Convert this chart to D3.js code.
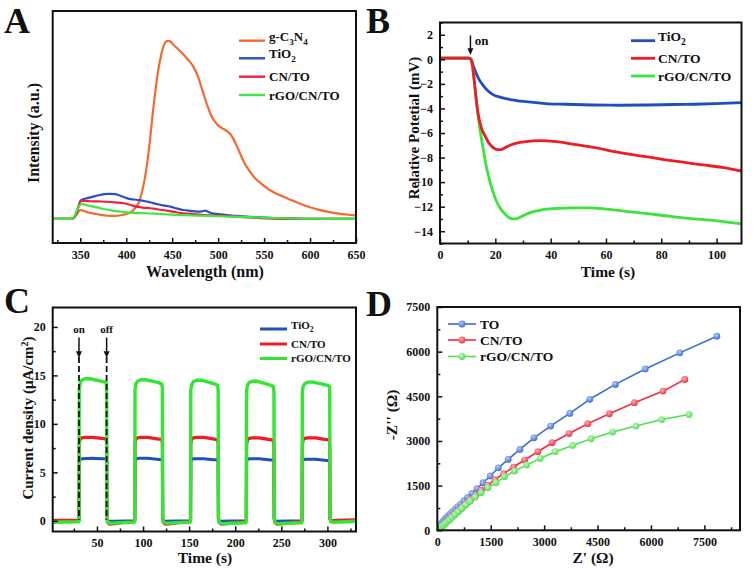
<!DOCTYPE html>
<html><head><meta charset="utf-8">
<script src="https://cdn.jsdelivr.net/npm/d3@7"></script>
<style>
body{margin:0;background:#fff}
svg{display:block}
text{font-family:"Liberation Serif","Times New Roman",serif;font-weight:bold;fill:#111}
</style>
</head><body>
<svg id="c" width="756" height="572"></svg>
<script>
// ---------- Panel A: PL spectra (wavelength nm, intensity a.u.) ----------
const aXTicks = [350,400,450,500,550,600,650];
const aXMinor = [325,375,425,475,525,575,625];
const aOrange = [[320,0],[340,0],[343,0.5],[346,2.5],[349,4.6],[351,5.0],[355,4.3],[360,3.5],[365,3.0],[372,2.3],[380,1.8],[388,1.7],[395,2.2],[401,2.9],[405,3.9],[408,5.0],[411,7.0],[414,9.5],[417,15],[420,22],[423,32],[426,45],[429,60],[432,73],[435,84],[438,92],[441,97.5],[444,99.8],[446,100],[448,99.6],[451.5,97.6],[456,95.5],[461,93],[467,89.5],[473,85.5],[478,80],[483,72],[488,64],[493,57.5],[499,53],[504,51],[509,49.5],[513,47.8],[517,44.5],[522,39],[528,32],[534,27],[540,23],[547,19.8],[555,16.6],[563,14.3],[572,12.3],[581,10.3],[590,8.4],[600,6.6],[610,5.1],[620,4.0],[630,3.1],[640,2.5],[650,2.0]];
const aBlue = [[320,0],[341,0],[344,1.5],[347,5],[349,8.5],[351,10.7],[355,11.3],[360,12],[364,12.5],[370,13.3],[376,13.9],[382,14.1],[388,13.9],[393,13.2],[398,12.2],[403,11.3],[408,10.9],[414,10.6],[419,10.1],[424,9.6],[429,8.9],[434,8.3],[440,7.6],[448,6.9],[455,5.9],[462,5.0],[470,4.5],[477,4.1],[482,4.2],[486,4.7],[489,4.0],[493,3.2],[500,2.7],[510,2.1],[520,1.7],[531,1.3],[546,0.9],[560,0.5],[580,0.3],[600,0.1],[650,0]];
const aRed = [[320,0],[341,0],[344,1.5],[347,5],[349,8.5],[351,10.3],[355,10.1],[364,9.9],[373,9.8],[383,9.5],[390,9.2],[397,8.8],[404,8.0],[411,6.9],[418,6.4],[426,6.0],[435,5.3],[444,4.7],[453,3.9],[462,3.2],[471,2.8],[480,2.4],[490,2.0],[502,1.9],[515,1.4],[531,0.9],[545,0.5],[560,0.2],[580,0],[650,0]];
const aGreen = [[320,0],[341,0],[344,2],[347,5.5],[350,8.0],[352,8.4],[356,7.8],[364,6.9],[372,6.0],[382,5.0],[391,4.2],[401,3.7],[411,3.3],[422,3.2],[435,2.8],[448,2.4],[464,2.1],[480,1.9],[500,1.5],[517,1.3],[535,1.0],[550,0.7],[570,0.4],[600,0.1],[650,0]];
const aNames = ["g-C3N4","TiO2","CN/TO","rGO/CN/TO"];

// ---------- Panel B: relative potential (time s, mV) ----------
const bXTicks = [0,20,40,60,80,100];
const bXMinor = [10,30,50,70,90];
const bYTicks = [-14,-12,-10,-8,-6,-4,-2,0,2];
const bYMinor = [-15,-13,-11,-9,-7,-5,-3,-1,1,3];
const bBlue = [[0,0.1],[5,0.1],[10.5,0.1],[11.2,0],[12,-0.5],[13,-1.1],[14,-1.6],[15.5,-2.1],[17,-2.5],[19,-2.85],[22,-3.1],[26,-3.3],[31,-3.45],[38,-3.6],[45,-3.66],[55,-3.72],[65,-3.74],[75,-3.72],[85,-3.68],[95,-3.64],[102,-3.58],[109,-3.53]];
const bRed = [[0,0.1],[10.5,0.1],[11.2,0],[11.8,-0.6],[12.5,-2],[13.2,-3.5],[14,-4.7],[15,-5.6],[16.2,-6.2],[17.5,-6.75],[19,-7.15],[20.5,-7.35],[22,-7.35],[23.5,-7.2],[25.5,-6.98],[28,-6.8],[31,-6.7],[36,-6.62],[42,-6.7],[48,-6.9],[55,-7.15],[65,-7.6],[75,-7.95],[85,-8.3],[95,-8.6],[102,-8.8],[109,-9.1]];
const bGreen = [[0,0.1],[10.5,0.1],[11.2,0],[11.8,-0.6],[12.5,-2],[13.2,-3.5],[14,-5.0],[15,-6.5],[16,-7.8],[17,-9.0],[18,-9.9],[19,-10.7],[20.5,-11.6],[22,-12.2],[23.5,-12.6],[25,-12.9],[26.5,-13.0],[28,-12.95],[30,-12.75],[33,-12.45],[37,-12.25],[42,-12.15],[48,-12.1],[54,-12.1],[60,-12.2],[70,-12.45],[80,-12.7],[90,-12.95],[100,-13.15],[109,-13.4]];
const bNames = ["TiO2","CN/TO","rGO/CN/TO"];

// ---------- Panel C: photocurrent (time s, µA/cm²) ----------
const cXTicks = [50,100,150,200,250,300];
const cXMinor = [25,75,125,175,225,275,325];
const cYTicks = [0,5,10,15,20];
const cYMinor = [2.5,7.5,12.5,17.5];
const cBlue = [[2,0],[30.5,0],[30.8,6.1],[31.8,6.35],[34,6.4],[45,6.45],[55,6.4],[60.5,6.4],[60.8,0.2],[62,-0.05],[70,-0.05],[91,0],
 [91.3,6.1],[92.3,6.35],[94.5,6.45],[105,6.45],[115,6.35],[121,6.3],[121.3,0.2],[122.5,-0.05],[151.5,0],
 [151.8,6.1],[152.8,6.35],[155,6.4],[166,6.4],[176,6.3],[181.5,6.3],[181.8,0.2],[183,-0.05],[212,0],
 [212.3,6.1],[213.3,6.35],[215.5,6.4],[226,6.4],[236,6.3],[242,6.25],[242.3,0.2],[243.5,-0.05],[272.5,0],
 [272.8,6.05],[273.8,6.3],[276,6.35],[287,6.35],[297,6.25],[302.5,6.2],[302.8,0.2],[304,0],[331,0]];
const cRed = [[2,0.05],[30,0.05],[30.5,0.1],[30.8,8.0],[31.8,8.4],[33.5,8.55],[37,8.6],[45,8.6],[55,8.5],[60,8.45],[60.5,8.0],[60.8,0.2],[61.8,-0.2],[64,-0.35],[70,-0.3],[80,-0.15],[90.5,-0.05],
 [91,0.1],[91.3,8.0],[92.3,8.4],[94,8.55],[97.5,8.6],[105,8.6],[115,8.45],[120.5,8.4],[121,7.9],[121.3,0.2],[122.3,-0.2],[124.5,-0.35],[131,-0.3],[141,-0.15],[151,-0.05],
 [151.5,0.1],[151.8,8.0],[152.8,8.4],[154.5,8.55],[158,8.6],[166,8.6],[176,8.45],[181,8.35],[181.5,7.9],[181.8,0.2],[182.8,-0.2],[185,-0.35],[191,-0.3],[201,-0.15],[211.5,-0.05],
 [212,0.1],[212.3,7.9],[213.3,8.35],[215,8.5],[218.5,8.55],[226,8.55],[236,8.4],[241.5,8.3],[242,7.8],[242.3,0.2],[243.3,-0.2],[245.5,-0.35],[252,-0.3],[262,-0.15],[272,-0.05],
 [272.5,0.1],[272.8,7.9],[273.8,8.35],[275.5,8.5],[279,8.55],[287,8.55],[297,8.4],[302,8.35],[302.5,7.8],[302.8,0.2],[303.8,0],[310,0.05],[331,0.1]];
const cGreen = [[2,-0.15],[30,-0.1],[30.5,0],[30.8,13.6],[31.8,14.2],[33.5,14.5],[37,14.65],[42,14.65],[50,14.5],[57,14.35],[60,14.25],[60.5,13.6],[60.8,0.4],[61.8,-0.15],[65,-0.25],[75,-0.2],[90.5,-0.15],
 [91,0],[91.3,13.5],[92.3,14.1],[94,14.4],[97.5,14.55],[102,14.55],[110,14.4],[117,14.25],[120.5,14.1],[121,13.5],[121.3,0.4],[122.3,-0.15],[125.5,-0.25],[136,-0.2],[151,-0.15],
 [151.5,0],[151.8,13.5],[152.8,14.0],[154.5,14.35],[158,14.5],[163,14.5],[171,14.3],[178,14.1],[181,13.95],[181.5,13.4],[181.8,0.4],[182.8,-0.2],[186,-0.3],[196,-0.25],[211.5,-0.2],
 [212,0],[212.3,13.4],[213.3,13.95],[215,14.25],[218.5,14.4],[223,14.4],[231,14.2],[238,14.0],[241.5,13.85],[242,13.3],[242.3,0.4],[243.3,-0.2],[246.5,-0.3],[257,-0.25],[272,-0.2],
 [272.5,0],[272.8,13.4],[273.8,13.9],[275.5,14.15],[279,14.3],[284,14.3],[292,14.15],[299,14.0],[302,13.9],[302.5,13.3],[302.8,0.4],[303.8,-0.1],[307,-0.15],[320,-0.1],[331,-0.05]];
const cNames = ["TiO2","CN/TO","rGO/CN/TO"];
const cOnOff = [30.5, 60.5];

// ---------- Panel D: Nyquist (Z' Ω, -Z'' Ω) ----------
const dXTicks = [0,1500,3000,4500,6000,7500];
const dXMinor = [750,2250,3750,5250,6750,8250];
const dYTicks = [0,1500,3000,4500,6000,7500];
const dYMinor = [750,2250,3750,5250,6750];
const dBlue = [[10,50],[28,111],[67,168],[104,221],[151,278],[196,346],[244,413],[300,480],[364,547],[431,624],[496,704],[571,792],[655,882],[750,993],[850,1107],[972,1241],[1115,1400],[1285,1597],[1485,1825],[1715,2100],[1990,2382],[2320,2717],[2715,3106],[3180,3500],[3720,3925],[4280,4400],[5000,4900],[5840,5420],[6810,5960],[7850,6520]];
const dRed = [[25,20],[60,55],[100,100],[145,150],[195,205],[250,270],[310,340],[375,415],[450,500],[530,590],[620,690],[720,800],[830,920],[950,1050],[1085,1190],[1235,1345],[1410,1510],[1620,1700],[1860,1900],[2140,2125],[2450,2360],[2825,2640],[3225,2940],[3700,3250],[4225,3580],[4830,3915],[5535,4285],[6340,4675],[6950,5065]];
const dGreen = [[10,5],[35,30],[75,65],[120,110],[170,160],[225,220],[285,285],[350,355],[420,435],[500,525],[590,625],[690,735],[800,850],[920,975],[1065,1117],[1230,1260],[1420,1430],[1650,1600],[1890,1800],[2170,1990],[2510,2190],[2890,2415],[3310,2640],[3800,2850],[4320,3075],[4920,3300],[5580,3500],[6300,3720],[7070,3890]];
const dNames = ["TO","CN/TO","rGO/CN/TO"];

// ================= drawing =================
const svg = d3.select("#c");
const defs = svg.append("defs");
let clipId = 0;

function makePanel(box, xd, yd) {
  const x = d3.scaleLinear().domain(xd).range([box.l, box.r]);
  const y = d3.scaleLinear().domain(yd).range([box.b, box.t]);
  const id = "clip" + (clipId++);
  defs.append("clipPath").attr("id", id).append("rect")
    .attr("x", box.l).attr("y", box.t).attr("width", box.r - box.l).attr("height", box.b - box.t);
  const plot = svg.append("g").attr("clip-path", `url(#${id})`);
  return {x, y, plot, box};
}
function styleAxis(g, fs) {
  g.attr("font-family", null).attr("font-size", null);
  g.select(".domain").remove();
  g.selectAll(".tick line").attr("stroke", "#111").attr("stroke-width", 1.5);
  g.selectAll("text").style("font-size", fs + "px").attr("fill", "#111");
}
function xAxis(P, major, minor, fmt, labels = true) {
  const g = svg.append("g").attr("transform", `translate(0,${P.box.b})`)
    .call(d3.axisBottom(P.x).tickValues(major).tickSize(-5).tickPadding(7).tickFormat(labels ? fmt : ""));
  styleAxis(g, 12);
  const m = svg.append("g").attr("transform", `translate(0,${P.box.b})`)
    .call(d3.axisBottom(P.x).tickValues(minor).tickSize(-3).tickFormat(""));
  styleAxis(m, 12);
}
function yAxis(P, major, minor, fmt) {
  const g = svg.append("g").attr("transform", `translate(${P.box.l},0)`)
    .call(d3.axisLeft(P.y).tickValues(major).tickSize(-5).tickPadding(7).tickFormat(fmt));
  styleAxis(g, 12);
  const m = svg.append("g").attr("transform", `translate(${P.box.l},0)`)
    .call(d3.axisLeft(P.y).tickValues(minor).tickSize(-3).tickFormat(""));
  styleAxis(m, 12);
}
function frame(P) {
  svg.append("rect").attr("x", P.box.l).attr("y", P.box.t)
    .attr("width", P.box.r - P.box.l).attr("height", P.box.b - P.box.t)
    .attr("fill", "none").attr("stroke", "#111").attr("stroke-width", 2);
}
function drawLine(P, data, color, w, curve) {
  P.plot.append("path").datum(data)
    .attr("d", d3.line().x(d => P.x(d[0])).y(d => P.y(d[1])).curve(curve))
    .attr("fill", "none").attr("stroke", color).attr("stroke-width", w)
    .attr("stroke-linejoin", "round").attr("stroke-linecap", "round");
}
// label text with chemical subscripts / superscript
function richText(sel, label, fs) {
  const parts = label.match(/[A-Za-z\/\-\(\)\sµμ'Ω]+|\d+/g);
  const chem = /^(g-C3N4|TiO2)$/.test(label);
  if (!chem) { sel.text(label); return sel; }
  let sub = false;
  parts.forEach(p => {
    const isNum = /^\d+$/.test(p);
    if (isNum) {
      sel.append("tspan").attr("dy", sub ? 0 : fs * 0.3).style("font-size", (fs * 0.7) + "px").text(p);
      sub = true;
    } else {
      sel.append("tspan").attr("dy", sub ? -fs * 0.3 : 0).text(p);
      sub = false;
    }
  });
  return sel;
}
function title(x, y, txt, fs, rot) {
  const t = svg.append("text").attr("text-anchor", "middle").style("font-size", fs + "px")
    .attr("transform", `translate(${x},${y})` + (rot ? " rotate(-90)" : ""))
    .attr("dy", "0.35em");
  return t.text(txt);
}
function panelLetter(x, y, s) {
  svg.append("text").attr("x", x).attr("y", y).style("font-size", "36px").text(s);
}
function legend(items, x0, x1, tx, ys, fs, w, marker) {
  items.forEach((it, i) => {
    svg.append("line").attr("x1", x0).attr("x2", x1).attr("y1", ys[i]).attr("y2", ys[i])
      .attr("stroke", it.color).attr("stroke-width", w);
    if (marker) {
      svg.append("circle").attr("cx", (x0 + x1) / 2).attr("cy", ys[i]).attr("r", 3.4)
        .attr("fill", `url(#${it.grad})`);
    }
    const t = svg.append("text").attr("x", tx).attr("y", ys[i]).attr("dy", "0.35em")
      .style("font-size", fs + "px");
    richText(t, it.name, fs);
  });
}

// ---------- Panel A ----------
{
  const P = makePanel({l: 52.7, t: 11, r: 356, b: 243}, [320, 650], [-13.5, 116.7]);
  const cols = ["#f36a2e", "#2a4fc6", "#f0203a", "#3fe83f"];
  drawLine(P, aOrange, cols[0], 2.2, d3.curveMonotoneX);
  drawLine(P, aBlue, cols[1], 2.2, d3.curveMonotoneX);
  drawLine(P, aRed, cols[2], 2.2, d3.curveMonotoneX);
  drawLine(P, aGreen, cols[3], 2.2, d3.curveMonotoneX);
  frame(P);
  xAxis(P, aXTicks, aXMinor, d3.format("d"));
  title(205, 271, "Wavelength (nm)", 16, false);
  title(33, 133, "Intensity (a.u.)", 16, true);
  legend(aNames.map((n, i) => ({name: n, color: cols[i]})), 239, 265, 269, [40.7, 58.3, 76.7, 95], 13, 2.4);
  panelLetter(4, 33, "A");
}

// ---------- Panel B ----------
{
  const P = makePanel({l: 440, t: 22.5, r: 741.5, b: 243.5}, [0, 109], [-15, 3]);
  const cols = ["#1f4fbf", "#ee1c25", "#3be33b"];
  drawLine(P, bBlue, cols[0], 2.8, d3.curveMonotoneX);
  drawLine(P, bGreen, cols[2], 2.8, d3.curveMonotoneX);
  drawLine(P, bRed, cols[1], 2.8, d3.curveMonotoneX);
  frame(P);
  xAxis(P, bXTicks, bXMinor, d3.format("d"));
  yAxis(P, bYTicks, bYMinor, d3.format("d"));
  title(608, 272, "Time (s)", 15.5, false);
  title(414, 128, "Relative Potetial (mV)", 15, true);
  legend(bNames.map((n, i) => ({name: n, color: cols[i]})), 631, 655, 658, [40.7, 58.3, 76], 13.5, 2.8);
  // "on" arrow
  const ax = P.x(11);
  svg.append("line").attr("x1", ax).attr("x2", ax).attr("y1", P.y(1.95)).attr("y2", P.y(0.8))
    .attr("stroke", "#111").attr("stroke-width", 1.5);
  svg.append("path").attr("d", `M${ax - 3},${P.y(0.9)} L${ax + 3},${P.y(0.9)} L${ax},${P.y(0.35)} Z`).attr("fill", "#111");
  svg.append("text").attr("x", P.x(12.6)).attr("y", P.y(1.5)).attr("dy", "0.35em").style("font-size", "13px").text("on");
  panelLetter(366, 33, "B");
}

// ---------- Panel C ----------
{
  const P = makePanel({l: 52.7, t: 307.5, r: 356, b: 531.5}, [2, 331], [-1.1, 22]);
  const cols = ["#1f4fc0", "#ee1c25", "#33e633"];
  drawLine(P, cBlue, cols[0], 3, d3.curveLinear);
  drawLine(P, cRed, cols[1], 3.2, d3.curveLinear);
  drawLine(P, cGreen, cols[2], 3.4, d3.curveLinear);
  // on/off markers
  cOnOff.forEach((t, i) => {
    const ax = P.x(t);
    svg.append("line").attr("x1", ax).attr("x2", ax).attr("y1", P.y(16.9)).attr("y2", P.y(0.1))
      .attr("stroke", "#111").attr("stroke-width", 1.8).attr("stroke-dasharray", "6,3");
    svg.append("line").attr("x1", ax).attr("x2", ax).attr("y1", P.y(18.9)).attr("y2", P.y(17.4))
      .attr("stroke", "#111").attr("stroke-width", 1.5);
    svg.append("path").attr("d", `M${ax - 3},${P.y(17.5)} L${ax + 3},${P.y(17.5)} L${ax},${P.y(16.8)} Z`).attr("fill", "#111");
    svg.append("text").attr("x", ax).attr("y", P.y(19.8)).attr("dy", "0.35em").attr("text-anchor", "middle")
      .style("font-size", "11px").text(i === 0 ? "on" : "off");
  });
  frame(P);
  xAxis(P, cXTicks, cXMinor, d3.format("d"));
  yAxis(P, cYTicks, cYMinor, d3.format("d"));
  title(205, 558, "Time (s)", 15.5, false);
  const yt = svg.append("text").attr("text-anchor", "middle").style("font-size", "15px")
    .attr("transform", "translate(28,418) rotate(-90)").attr("dy", "0.35em");
  yt.append("tspan").text("Current density (μA/cm");
  yt.append("tspan").attr("dy", -5).style("font-size", "10px").text("2");
  yt.append("tspan").attr("dy", 5).text(")");
  legend(cNames.map((n, i) => ({name: n, color: cols[i]})), 260, 287, 291, [329, 344, 358.5], 11, 3);
  panelLetter(4, 313, "C");
}

// ---------- Panel D ----------
{
  const P = makePanel({l: 437.3, t: 307, r: 740, b: 530.3}, [0, 8500], [0, 7500]);
  const cols = ["#3a6cd4", "#ef2f3f", "#4fe04f"];
  const light = ["#b9cdf7", "#ffb3b8", "#c4f7c4"];
  const grads = cols.map((c, i) => {
    const id = "g" + i;
    const rg = defs.append("radialGradient").attr("id", id).attr("cx", "40%").attr("cy", "35%").attr("r", "65%");
    rg.append("stop").attr("offset", "0%").attr("stop-color", light[i]);
    rg.append("stop").attr("offset", "100%").attr("stop-color", c);
    return id;
  });
  [dBlue, dRed, dGreen].forEach((s, i) => {
    drawLine(P, s, cols[i], 1.6, d3.curveLinear);
  });
  [dBlue, dRed, dGreen].forEach((s, i) => {
    P.plot.selectAll(null).data(s).join("circle")
      .attr("cx", d => P.x(d[0])).attr("cy", d => P.y(d[1])).attr("r", 3.4)
      .attr("fill", `url(#${grads[i]})`);
  });
  frame(P);
  xAxis(P, dXTicks, dXMinor, d3.format("d"));
  yAxis(P, dYTicks, dYMinor, d3.format("d"));
  title(593, 558, "Z' (Ω)", 15.5, false);
  title(392, 415, "-Z'' (Ω)", 15.5, true);
  legend(dNames.map((n, i) => ({name: n, color: cols[i], grad: grads[i]})), 448, 476, 480, [324, 340, 356.5], 13.5, 1.6, true);
  panelLetter(366, 316, "D");
}
</script>
</body></html>
